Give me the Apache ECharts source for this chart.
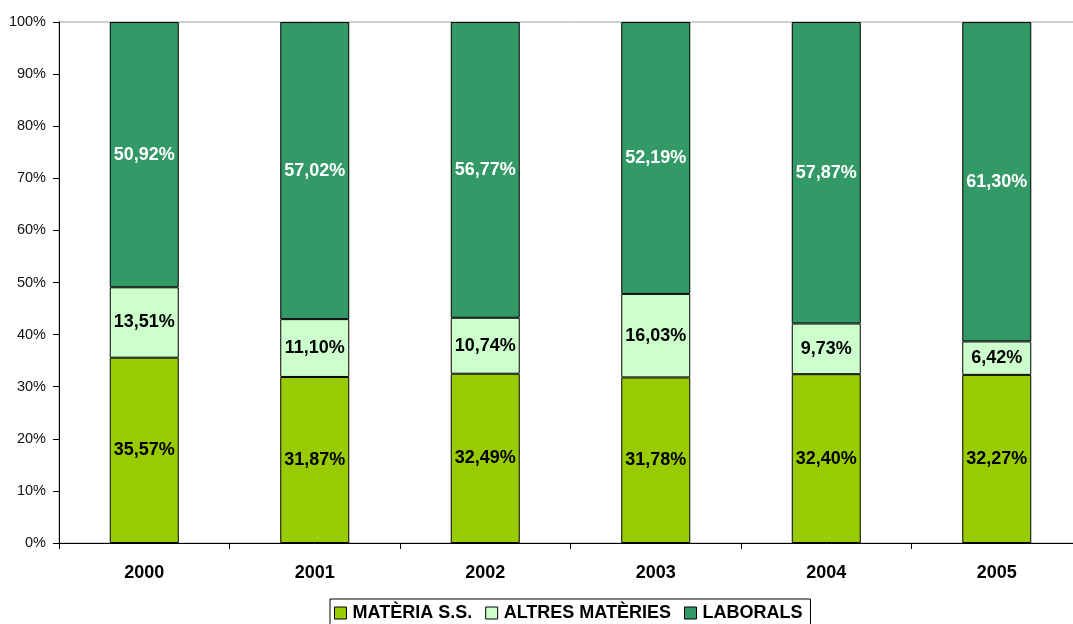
<!DOCTYPE html>
<html>
<head>
<meta charset="utf-8">
<script src="https://cdn.jsdelivr.net/npm/echarts@6/dist/echarts.min.js"></script>
<style>
  html, body { margin: 0; padding: 0; background: #fff; overflow: hidden; }
  /* the plot frame runs a little past the right edge of the window */
  #chart { width: 1090px; height: 624px; }
</style>
</head>
<body>
<div id="chart"></div>
<script>
// Years on the category axis
const years = ['2000', '2001', '2002', '2003', '2004', '2005'];
// Share of each component per year (%)
const materiaSS = [35.57, 31.87, 32.49, 31.78, 32.40, 32.27];
const altresMateries = [13.51, 11.10, 10.74, 16.03, 9.73, 6.42];
const laborals = [50.92, 57.02, 56.77, 52.19, 57.87, 61.30];
// Value axis ticks
const yTicks = [0, 10, 20, 30, 40, 50, 60, 70, 80, 90, 100];

const fmt = v => v.toFixed(2).replace('.', ',') + '%';
const font = 'Arial, "Liberation Sans", sans-serif';

function seriesOf(name, data, color, textColor) {
  return {
    name: name,
    type: 'bar',
    stack: 'total',
    data: data,
    barWidth: 69,
    itemStyle: { color: color, borderColor: '#000', borderWidth: 1 },
    label: {
      show: true,
      position: 'inside',
      formatter: p => fmt(p.value),
      color: textColor,
      fontFamily: font,
      fontWeight: 'bold',
      fontSize: 18
    },
    emphasis: { disabled: true }
  };
}

const chart = echarts.init(document.getElementById('chart'), null, { renderer: 'canvas' });
chart.setOption({
  animation: false,
  backgroundColor: '#fff',
  grid: {
    left: 59, width: 1023, top: 22, height: 521,
    show: true, borderColor: '#a0a0a0', borderWidth: 1, backgroundColor: 'transparent'
  },
  legend: {
    top: 599,
    left: 330,
    data: ['MATÈRIA S.S.', 'ALTRES MATÈRIES', 'LABORALS'],
    itemWidth: 12,
    itemHeight: 12,
    itemGap: 13,
    icon: 'rect',
    borderColor: '#000',
    borderWidth: 1,
    padding: [5, 8, 12, 4],
    textStyle: { fontFamily: font, fontWeight: 'bold', fontSize: 18, color: '#000', padding: [0, 0, 0, 1] },
    itemStyle: { borderColor: '#000', borderWidth: 1 }
  },
  xAxis: {
    type: 'category',
    data: years,
    axisLine: { lineStyle: { color: '#000', width: 1 } },
    axisTick: { show: true, alignWithLabel: false, length: 6, lineStyle: { color: '#000' } },
    axisLabel: { fontFamily: font, fontWeight: 'bold', fontSize: 18, color: '#000', margin: 21 }
  },
  yAxis: {
    type: 'value',
    min: yTicks[0],
    max: yTicks[yTicks.length - 1],
    interval: yTicks[1] - yTicks[0],
    axisLine: { show: true, lineStyle: { color: '#000', width: 1 } },
    axisTick: { show: true, length: 6, lineStyle: { color: '#000' } },
    splitLine: { show: false },
    axisLabel: { fontFamily: font, fontSize: 14.5, color: '#111', margin: 13, formatter: '{value}%' }
  },
  series: [
    seriesOf('MATÈRIA S.S.', materiaSS, '#99cc00', '#000'),
    seriesOf('ALTRES MATÈRIES', altresMateries, '#ccffcc', '#000'),
    seriesOf('LABORALS', laborals, '#339966', '#fff')
  ]
});
</script>
</body>
</html>
